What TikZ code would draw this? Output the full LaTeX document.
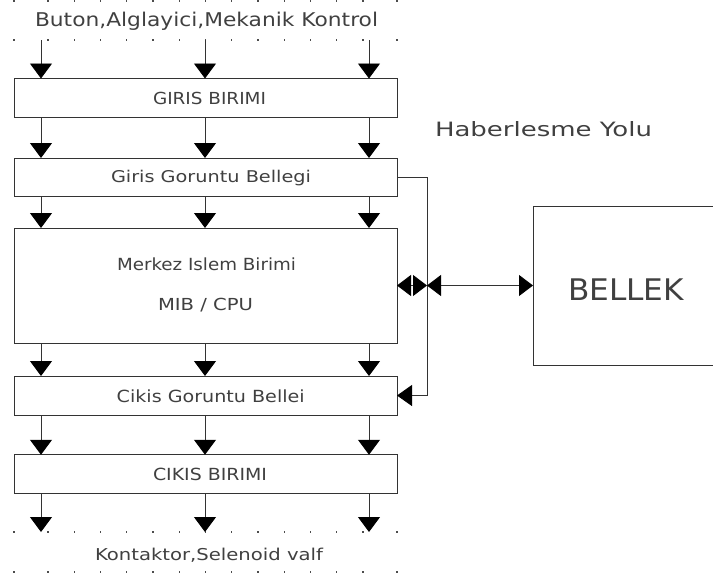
\documentclass[tikz,border=0pt]{standalone}
\usepackage{fontspec}
\setmainfont{DejaVu Sans}
\usepackage{graphicx}
\usetikzlibrary{arrows.meta}
\newcommand{\fitt}[3]{\resizebox{#1pt}{#2pt}{#3}}
\tikzset{
  blk/.style={draw=black!80, line width=0.9pt, rectangle, inner sep=0pt, outer sep=0pt},
  lbl/.style={anchor=base west, inner sep=0pt, outer sep=0pt, text=black!75},
  arr/.style={draw=black!80, line width=0.9pt, -{Triangle[length=15pt,width=22pt,color=black]}},
  larr/.style={draw=black!80, line width=0.9pt, -{Triangle[length=15pt,width=21pt,color=black]}},
  harr/.style={draw=black!80, line width=0.9pt, {Triangle[length=14pt,width=21pt,color=black]}-{Triangle[length=14pt,width=21pt,color=black]}},
  dotp/.style={fill=black!70, draw=none},
  bus/.style={draw=black!80, line width=0.9pt}
}
\begin{document}
\begin{tikzpicture}[x=1pt,y=-1pt]
\useasboundingbox (0,0) rectangle (713,574);
\clip (0,0) rectangle (713,574);

% dotted guide rows
\foreach \yy in {1,40,532,572}{
  \foreach \xx in {14,48,74.25,100.5,126.75,153,179.25,205.5,231.75,258,284.25,310.5,336.75,363,397}{
    \fill[dotp] (\xx-0.6,\yy-0.6) rectangle (\xx+0.6,\yy+0.6);
  }
}

% column coordinates
\coordinate (xa) at (41,0);
\coordinate (xb) at (205,0);
\coordinate (xc) at (369,0);
\coordinate (intop) at (0,40);
\coordinate (outbot) at (0,532);

% boxes
\node[blk, minimum width=383pt, minimum height=38.5pt] (giris) at (205.5,97.75) {};
\node[blk, minimum width=383pt, minimum height=38pt] (ggb) at (205.5,177) {};
\node[blk, minimum width=383pt, minimum height=115pt] (mib) at (205.5,285.5) {};
\node[blk, minimum width=383pt, minimum height=39pt] (cgb) at (205.5,395.5) {};
\node[blk, minimum width=383pt, minimum height=38.5pt] (cib) at (205.5,474) {};
\node[blk, minimum width=240pt, minimum height=159pt] (bellek) at (653,286) {};

% texts
\node[lbl] (t1) at (35,26.7) {\fitt{343}{14.4}{Buton,Alglayici,Mekanik Kontrol}};
\node[lbl] (t2) at (153,104) {\fitt{113}{12.3}{GIRIS BIRIMI}};
\node[lbl] (t3) at (111,182.3) {\fitt{200}{12.3}{Giris Goruntu Bellegi}};
\node[lbl] (t4) at (117,270) {\fitt{179}{12.7}{Merkez Islem Birimi}};
\node[lbl] (t5) at (158,310) {\fitt{95}{12.3}{MIB / CPU}};
\node[lbl] (t6) at (116.7,402.7) {\fitt{188}{12.7}{Cikis Goruntu Bellei}};
\node[lbl] (t7) at (153,480.7) {\fitt{114}{12.4}{CIKIS BIRIMI}};
\node[lbl] (t8) at (95,560.7) {\fitt{228}{12.4}{Kontaktor,Selenoid valf}};
\node[lbl] (t9) at (435,136.7) {\fitt{217}{15}{Haberlesme Yolu}};
\node[lbl] (t10) at (568,300) {\fitt{116}{21.7}{BELLEK}};

% vertical arrows
\foreach \c in {xa,xb,xc}{
  \draw[arr] (intop -| \c) -- (giris.north -| \c);
  \draw[arr] (giris.south -| \c) -- (ggb.north -| \c);
  \draw[arr] (ggb.south -| \c) -- (mib.north -| \c);
  \draw[arr] (mib.south -| \c) -- (cgb.north -| \c);
  \draw[arr] (cgb.south -| \c) -- (cib.north -| \c);
  \draw[arr] (cib.south -| \c) -- (outbot -| \c);
}

% communication bus
\coordinate (busx) at (427,0);
\coordinate (bus) at (mib.east -| busx);
\draw[larr] (ggb.east) -- (ggb.east -| busx) |- (cgb.east);
\draw[harr] (mib.east) -- (bus);
\draw[harr] (bus) -- (bus -| bellek.west);
\end{tikzpicture}
\end{document}
